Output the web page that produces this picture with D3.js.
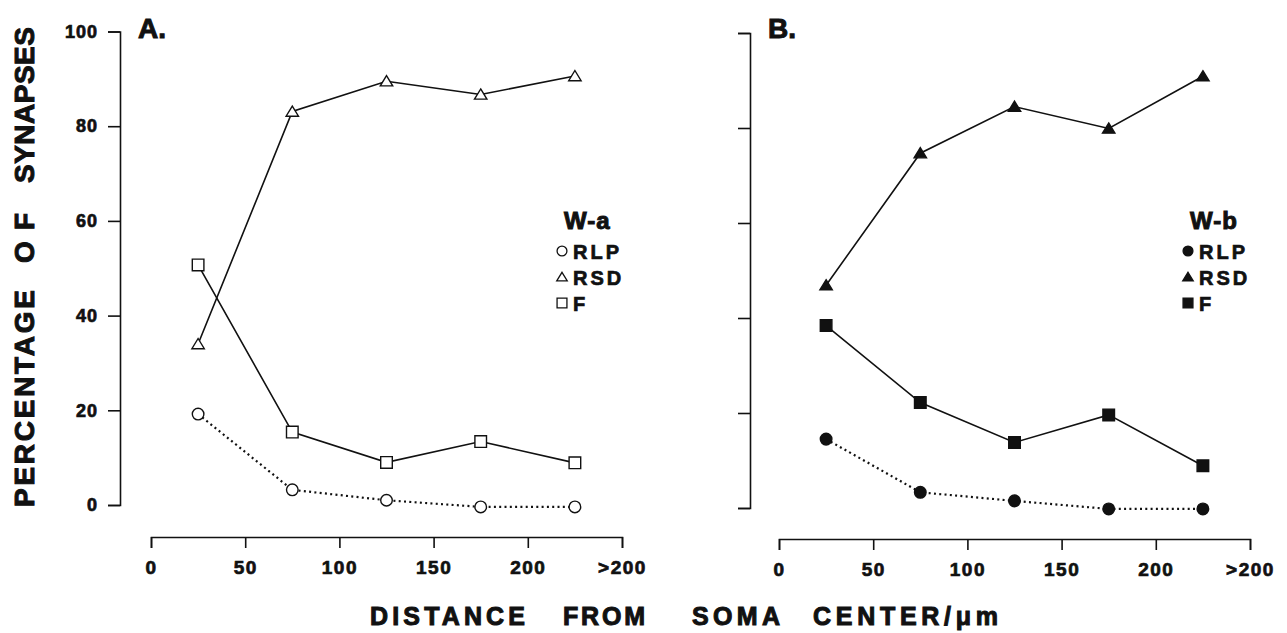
<!DOCTYPE html>
<html>
<head>
<meta charset="utf-8">
<script src="https://cdn.jsdelivr.net/npm/d3@7"></script>
<style>
  body { margin: 0; background: #fff; }
  svg { display: block; }
  text { font-family: "Liberation Sans", Arial, Helvetica, sans-serif; font-weight: bold; fill: #111; stroke: #111; stroke-width: 0.7px; }
  .axis path, .axis line { stroke: #111; stroke-width: 1.6; fill: none; }
  .title { stroke-width: 1px; }
</style>
</head>
<body>
<script>
//data
var distances = [25, 75, 125, 175, 225];               //bin centres, um
var xTicks = [0, 50, 100, 150, 200, 250];
var xTickLabels = ["0", "50", "100", "150", "200", ">200"];
var yTicks = [0, 20, 40, 60, 80, 100];
var seriesNames = ["RLP", "RSD", "F"];

//panel A, W-a cells
var rlpA = [19.2, 3.2, 1.0, -0.4, -0.4];
var rsdA = [34.0, 83.1, 89.5, 86.7, 90.6];
var fA   = [50.7, 15.4, 9.0, 13.4, 8.9];

//panel B, W-b cells
var rlpB = [14.5, 3.3, 1.5, -0.2, -0.2];
var rsdB = [46.9, 74.7, 84.5, 79.9, 90.9];
var fB   = [38.4, 22.2, 13.8, 19.6, 8.9];

var width = 1287, height = 633;

var svg = d3.select("body").append("svg")
  .attr("width", width)
  .attr("height", height);

//one panel per cell class
var panels = [
  {letter: "A.", legend: "W-a", filled: false, values: [rlpA, rsdA, fA],
   yAxisX: 120, yTop: 31.5, yBottom: 505, yLabels: true,
   xLeft: 151, xRight: 622, xAxisY: 537,
   letterX: 138, legendX: 562},
  {letter: "B.", legend: "W-b", filled: true, values: [rlpB, rsdB, fB],
   yAxisX: 750, yTop: 33, yBottom: 508, yLabels: false,
   xLeft: 779, xRight: 1250, xAxisY: 539,
   letterX: 768, legendX: 1188}
];

panels.forEach(drawPanel);

function drawPanel(p){
  var x = d3.scaleLinear().domain([0, 250]).range([p.xLeft, p.xRight]);
  var y = d3.scaleLinear().domain([0, 100]).range([p.yBottom, p.yTop]);

  //y axis
  var yAxis = d3.axisLeft(y)
    .tickValues(yTicks)
    .tickSize(12)
    .tickPadding(10)
    .tickFormat(p.yLabels ? d3.format("d") : function(){ return ""; });
  var gy = svg.append("g")
    .attr("class", "axis")
    .attr("transform", "translate(" + p.yAxisX + ",0)")
    .call(yAxis);
  gy.selectAll("text")
    .attr("font-size", 18)
    .style("letter-spacing", "1px")
    .attr("font-family", null);

  //x axis, detached below the plot
  var xAxis = d3.axisBottom(x)
    .tickValues(xTicks)
    .tickSize(11)
    .tickPadding(13)
    .tickFormat(function(d, i){ return xTickLabels[i]; });
  var gx = svg.append("g")
    .attr("class", "axis")
    .attr("transform", "translate(0," + p.xAxisY + ")")
    .call(xAxis);
  gx.selectAll("text")
    .attr("font-size", 19)
    .style("letter-spacing", "1.5px")
    .attr("font-family", null);

  //panel letter
  svg.append("text")
    .attr("class", "title")
    .attr("x", p.letterX)
    .attr("y", 38)
    .attr("font-size", 28)
    .text(p.letter);

  var line = d3.line()
    .x(function(d, i){ return x(distances[i]); })
    .y(function(d){ return y(d); });

  //lines first, markers on top
  p.values.forEach(function(vals, k){
    svg.append("path")
      .datum(vals)
      .attr("d", line)
      .attr("fill", "none")
      .attr("stroke", "#111")
      .attr("stroke-width", k === 0 ? 2.2 : 1.6)
      .attr("stroke-dasharray", k === 0 ? "2,3.3" : null);
  });

  p.values.forEach(function(vals, k){
    svg.selectAll(".m" + p.legend + k)
      .data(vals)
      .enter()
      .append("path")
      .attr("class", "m" + p.legend + k)
      .attr("transform", function(d, i){
        return "translate(" + x(distances[i]) + "," + y(d) + ")";
      })
      .attr("d", markerPath(k))
      .attr("fill", p.filled ? "#111" : "#fff")
      .attr("stroke", "#111")
      .attr("stroke-width", 1.4);
  });

  //legend
  svg.append("text")
    .attr("class", "title")
    .attr("x", p.legendX + 2)
    .attr("y", 229)
    .attr("font-size", 24)
    .style("letter-spacing", "1px")
    .text(p.legend);

  seriesNames.forEach(function(name, k){
    var cy = 251 + k * 26;
    svg.append("path")
      .attr("transform", "translate(" + p.legendX + "," + cy + ")")
      .attr("d", markerPath(k, 0.85))
      .attr("fill", p.filled ? "#111" : "#fff")
      .attr("stroke", "#111")
      .attr("stroke-width", 1.3);
    svg.append("text")
      .attr("x", p.legendX + 11)
      .attr("y", cy + 7.5)
      .attr("font-size", 20)
      .style("letter-spacing", "3px")
      .text(name);
  });
}

//circle, triangle, square
function markerPath(k, s){
  s = s || 1;
  if (k === 0) {
    var r = 5.8 * s;
    return "M" + r + ",0A" + r + "," + r + " 0 1,1 " + (-r) + ",0A" + r + "," + r + " 0 1,1 " + r + ",0Z";
  }
  if (k === 1) {
    var h = 5.5 * s;
    return "M0," + (-h) + "L" + (6.2 * s) + "," + (h * 0.85) + "L" + (-6.2 * s) + "," + (h * 0.85) + "Z";
  }
  var a = 5.8 * s;
  return "M" + (-a) + "," + (-a) + "H" + a + "V" + a + "H" + (-a) + "Z";
}

//axis titles, placed word by word with stretched spacing
var xTitle = [
  {w: "DISTANCE", x0: 370, x1: 525},
  {w: "FROM", x0: 563, x1: 645},
  {w: "SOMA", x0: 692, x1: 780},
  {w: "CENTER/\u03bcm", x0: 813, x1: 998}
];
xTitle.forEach(function(t){
  svg.append("text")
    .attr("class", "title")
    .attr("x", t.x0)
    .attr("y", 625)
    .attr("font-size", 25)
    .attr("textLength", t.x1 - t.x0)
    .attr("lengthAdjust", "spacing")
    .text(t.w);
});

var yTitle = [
  {w: "PERCENTAGE", y0: 507, y1: 290},
  {w: "OF", y0: 263, y1: 213},
  {w: "SYNAPSES", y0: 183, y1: 27}
];
yTitle.forEach(function(t){
  svg.append("text")
    .attr("class", "title")
    .attr("transform", "translate(34," + t.y0 + ") rotate(-90)")
    .attr("font-size", 28)
    .attr("textLength", t.y0 - t.y1)
    .attr("lengthAdjust", "spacing")
    .text(t.w);
});
</script>
</body>
</html>
